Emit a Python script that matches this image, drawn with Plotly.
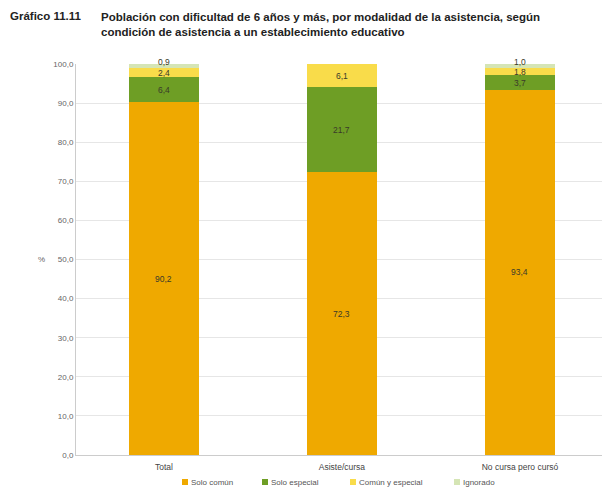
import plotly.graph_objects as go

categories = ["Total", "Asiste/cursa", "No cursa pero cursó"]
series_names = ["Solo común", "Solo especial", "Común y especial", "Ignorado"]
solo_comun = [90.2, 72.3, 93.4]
solo_especial = [6.4, 21.7, 3.7]
comun_y_especial = [2.4, 6.1, 1.8]
ignorado = [0.9, 0.0, 1.0]
y_ticks = [0, 10, 20, 30, 40, 50, 60, 70, 80, 90, 100]

colors = ["#EFA900", "#6E9E25", "#F9DC4A", "#D5E5B5"]
series = [solo_comun, solo_especial, comun_y_especial, ignorado]

FONT = "Liberation Sans, Arial, sans-serif"
x_pos = list(range(len(categories)))

W, H = 602, 487
PL, PR, PT, PB = 76, 0, 64, 32
pw, ph = W - PL - PR, H - PT - PB


def px_x(px):
    return (px - PL) / pw


def px_y(py):
    return (H - PB - py) / ph


fig = go.Figure()
for name, vals, col in zip(series_names, series, colors):
    fig.add_trace(go.Bar(
        x=x_pos, y=vals, name=name, width=0.39,
        marker=dict(color=col, line=dict(width=0)),
        hoverinfo="skip", showlegend=False,
    ))

# value labels centred in each segment; the thin top segment's label sits a bit higher
annotations = []
for i in x_pos:
    base = 0.0
    for k, vals in enumerate(series):
        v = vals[i]
        if v > 0:
            annotations.append(dict(
                x=i, y=base + v / 2, xref="x", yref="y",
                text=f"{v:.1f}".replace(".", ","), showarrow=False,
                font=dict(family=FONT, size=8.5, color="#3a3a2a"),
                yshift=4 if k == len(series) - 1 else 0,
            ))
        base += v

# heading
annotations.append(dict(
    x=px_x(8), y=px_y(16), xref="paper", yref="paper",
    xanchor="left", yanchor="middle", text="<b>Gráfico 11.11</b>",
    showarrow=False, font=dict(family=FONT, size=11.5, color="#222222"),
))
annotations.append(dict(
    x=px_x(99), y=px_y(24.5), xref="paper", yref="paper",
    xanchor="left", yanchor="middle", align="left",
    text="<b>Población con dificultad de 6 años y más, por modalidad de la asistencia, según</b>"
         "<br><b>condición de asistencia a un establecimiento educativo</b>",
    showarrow=False, font=dict(family=FONT, size=11.5, color="#222222"),
))
annotations.append(dict(
    x=px_x(41), y=50, xref="paper", yref="y", xanchor="center",
    yanchor="middle", text="%", showarrow=False,
    font=dict(family=FONT, size=8, color="#666666"),
))

# compact legend: small squares with their labels
shapes = []
legend_x = [182, 262, 350, 454]
legend_y = 482
for name, col, lx in zip(series_names, colors, legend_x):
    shapes.append(dict(
        type="rect", xref="paper", yref="paper",
        x0=px_x(lx), x1=px_x(lx + 6), y0=px_y(legend_y + 3), y1=px_y(legend_y - 3),
        fillcolor=col, line=dict(width=0),
    ))
    annotations.append(dict(
        x=px_x(lx + 6.5), y=px_y(legend_y), xref="paper", yref="paper",
        xanchor="left", yanchor="middle", text=name, showarrow=False,
        font=dict(family=FONT, size=8, color="#555555"),
    ))

fig.update_layout(
    width=W, height=H,
    margin=dict(l=PL, r=PR, t=PT, b=PB),
    paper_bgcolor="white", plot_bgcolor="white",
    barmode="stack", bargap=0,
    font=dict(family=FONT, size=8, color="#555555"),
    showlegend=False,
    xaxis=dict(
        range=[-0.494, 2.461], tickvals=x_pos, ticktext=categories,
        showgrid=False, zeroline=False, showline=True, linecolor="#cccccc",
        linewidth=1, ticks="", tickfont=dict(size=8.5, color="#444444"),
        ticklabelstandoff=4, fixedrange=True,
    ),
    yaxis=dict(
        range=[0, 100], tickvals=y_ticks,
        ticktext=[f"{t:.1f}".replace(".", ",") for t in y_ticks],
        showgrid=True, gridcolor="#e6e6e6", gridwidth=1, zeroline=False,
        showline=True, linecolor="#cccccc", linewidth=1,
        ticks="", tickfont=dict(size=8, color="#666666"),
        fixedrange=True,
    ),
    annotations=annotations,
    shapes=shapes,
)

fig.write_html("out.html")
